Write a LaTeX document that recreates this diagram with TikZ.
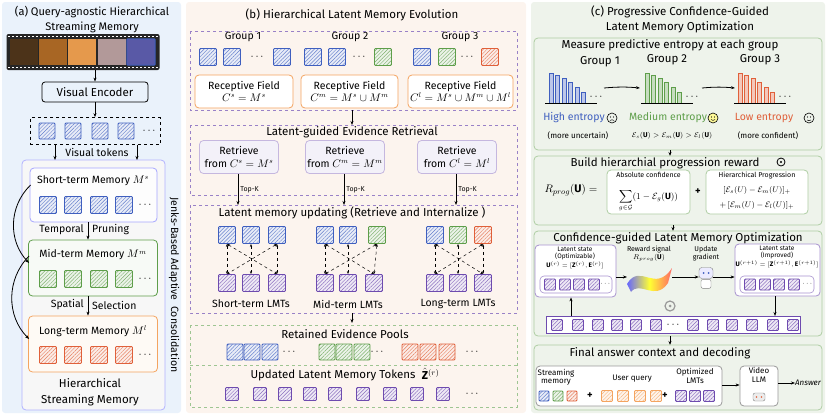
\documentclass[tikz,border=0pt]{standalone}
\usepackage{fontspec}
\setmainfont{Fira Sans}
\usepackage{amsmath,amssymb}
\usetikzlibrary{patterns.meta,arrows.meta,calc}
\definecolor{tb}{HTML}{3F5FBF}
\definecolor{tg}{HTML}{5E9E4A}
\definecolor{tr}{HTML}{E0603A}
\definecolor{tp}{HTML}{6E4BAF}
\definecolor{to}{HTML}{F4A460}
\definecolor{bgA}{HTML}{EAF2FB}
\definecolor{bgB}{HTML}{FCF4EE}
\definecolor{bgC}{HTML}{EEF3EB}
\tikzset{
  tok/.style={draw=#1, line width=0.9pt, rounded corners=1pt, minimum size=16pt, inner sep=0pt,
    preaction={fill=#1!12}, pattern={Lines[angle=45,distance=2.6pt,line width=0.45pt]}, pattern color=#1!80},
  sbox/.style={draw=#1, line width=0.8pt, rounded corners=4pt},
  dbox/.style={draw=#1, dashed, line width=0.7pt},
  lbl/.style={font=\fontsize{10.5}{11.5}\selectfont, inner sep=0pt},
  tiny/.style={font=\fontsize{7}{8}\selectfont, inner sep=0pt, align=center},
  ttl/.style={font=\fontsize{11.5}{12.5}\selectfont, inner sep=0pt},
  arr/.style={-{Stealth[length=4pt]}, line width=0.8pt},
  darr/.style={{Stealth[length=3pt]}-{Stealth[length=3pt]}, dashed, line width=0.5pt},
  face/.style={draw, circle, minimum size=10pt, inner sep=0pt, line width=0.6pt}
}
\begin{document}
\begin{tikzpicture}[x=1pt,y=-1pt]
\useasboundingbox (0,0) rectangle (829,415);
% ---------------- panel (a)
\fill[bgA, rounded corners=3pt] (2,2) rectangle (181,413);
\node[ttl, font=\fontsize{11}{12}\selectfont] (ta1) at (92,12) {(a) Query-agnostic Hierarchical};
\node[ttl, font=\fontsize{11}{12}\selectfont] (ta2) at (92,27) {Streaming Memory};
\node[fill=black!85, minimum width=153pt, minimum height=36pt, rounded corners=2pt] (film) at (83,52) {};
\foreach \x/\c [count=\i] in {24/brown!40!black, 53/orange!30!brown!80!black, 82/orange!50!brown!80, 112/pink!40!gray, 141/blue!30!gray}
  \node[fill=\c, minimum width=28pt, minimum height=26pt, inner sep=0pt] (fr\i) at (\x,52) {};
\draw[tb, line width=1pt, rounded corners=1pt] (fr5.south west) rectangle (fr5.north east);
\draw[white, line width=1.5pt, dash pattern=on 2pt off 2pt] (8,36.5) -- (158,36.5) (8,67.5) -- (158,67.5);
\node[draw, rounded corners=3pt, line width=0.8pt, minimum width=106pt, minimum height=20pt, font=\fontsize{11.5}{12}\selectfont] (enc) at (95,92) {Visual Encoder};
\draw[arr] (film.south -| enc.north) -- (enc.north);
\node[dbox=black, minimum width=130pt, minimum height=27pt] (vtok) at (95,131) {};
\foreach \x [count=\i] in {47,73,100,126} \node[tok=tb] (v\i) at (\x,131) {};
\node[lbl] (vdots) at (150,131) {$\cdots$};
\draw[arr] (enc.south) -- (vtok.north);
\node[lbl] (vtl) at (97,152) {Visual tokens};
\node[sbox=blue!30, fill=gray!6, minimum width=143pt, minimum height=250pt] (hier) at (93.5,285) {};
\coordinate (h1) at (55,160);
\coordinate (h2) at (137,160);
\draw[arr] (vtok.south -| h1) -- (h1);
\draw[arr] (vtok.south -| h2) -- (h2);
% short / mid / long memories
\node[sbox=blue!35, fill=white!60!gray!4, minimum width=127pt, minimum height=54pt] (stm) at (93.5,195) {};
\node[lbl] (stl) at (93,181) {Short-term Memory $M^s$};
\foreach \x [count=\i] in {48,73,99,124} \node[tok=tb, minimum size=17pt] (s\i) at (\x,205) {};
\node[lbl] (sdots) at (146,205) {$\cdots$};
\node[sbox=tg, fill=tg!5, minimum width=129pt, minimum height=56pt] (mtm) at (93,268) {};
\node[lbl] (mtl) at (93,255) {Mid-term Memory $M^m$};
\foreach \x [count=\i] in {48,73,99,124} \node[tok=tg, minimum size=17pt] (m\i) at (\x,279) {};
\node[lbl] (mdots) at (146,279) {$\cdots$};
\node[sbox=to, fill=to!6, minimum width=129pt, minimum height=56pt] (ltm) at (93,344) {};
\node[lbl] (ltl) at (93,331) {Long-term Memory $M^l$};
\foreach \x [count=\i] in {48,73,99,124} \node[tok=tr, minimum size=17pt] (l\i) at (\x,355) {};
\node[lbl] (ldots) at (146,355) {$\cdots$};
\draw[arr] (stm.south -| 88,0) -- (mtm.north -| 88,0);
\node[lbl, anchor=east] (tp1) at (84,230) {Temporal};
\node[lbl, anchor=west] (tp2) at (92,230) {Pruning};
\draw[arr] (mtm.south -| 88,0) -- (ltm.north -| 88,0);
\node[lbl, anchor=east] (sp1) at (84,305) {Spatial};
\node[lbl, anchor=west] (sp2) at (92,305) {Selection};
\node[ttl] (hl1) at (90,383) {Hierarchical};
\node[ttl] (hl2) at (90,400) {Streaming Memory};
\node[lbl, rotate=-90] (jenks) at (174,285) {Jenks-Based Adaptive \ Consolidation};
\draw[arr] ($(stm.west)+(1,-10)$) to[bend right=45] ($(mtm.west)+(1,-5)$);
\draw[arr] ($(mtm.west)+(1,-12)$) to[bend right=45] ($(ltm.west)+(1,-5)$);
% ---------------- panel (b)
\fill[bgB, rounded corners=3pt] (186,2) rectangle (526,413);
\node[ttl] (tb1) at (352,15) {(b) Hierarchical Latent Memory Evolution};
\draw[dbox=tp!70] (190,31) rectangle (517,110);
\foreach \x/\t [count=\i] in {243/1,350/2,460/3} \node[lbl] (g\i) at (\x,37) {Group \t};
\foreach \x/\c [count=\i] in {208/tb,232/tb,282/tb,313/tb,337/tb,383/tg,422/tb,447/tg,490/tr}
  \node[tok=\c, minimum size=17pt] (gt\i) at (\x,57) {};
\foreach \x [count=\i] in {258,360,468} \node[lbl] (gd\i) at (\x,57) {$\cdots$};
\node[sbox=to, fill=white, minimum width=98pt, minimum height=33pt, lbl, align=center] (rf1) at (244,91.5) {Receptive Field\\[1pt] $C^s=M^s$};
\node[sbox=to, fill=white, minimum width=97pt, minimum height=33pt, lbl, align=center] (rf2) at (349.5,91.5) {Receptive Field\\[1pt] $C^m=M^s\cup M^m$};
\node[sbox=to, fill=white, minimum width=105pt, minimum height=33pt, lbl, align=center] (rf3) at (460.5,91.5) {Receptive Field\\[1pt] $C^l=M^s\cup M^m\cup M^l$};
\coordinate (bA) at (352,110);
\coordinate (bB) at (352,125);
\draw[arr] (bA) -- (bB);
\draw[dbox=tp!70] (190,125) rectangle (517,195);
\node[ttl] (rt) at (352,132) {Latent-guided Evidence Retrieval};
\foreach \x/\f [count=\i] in {239/{C^s=M^s},345/{C^m=M^m},457/{C^l=M^l}}
  \node[sbox=tp!40, fill=tp!8, minimum width=79pt, minimum height=33pt, lbl, align=center] (rv\i) at (\x,157) {Retrieve\\[1pt] from $\f$};
\foreach \i/\x in {1/238,2/344,3/456} {
  \coordinate (tk\i) at (\x,205);
  \draw[arr] (rv\i.south -| tk\i) -- node[tiny, right=2pt] {Top-K} (tk\i);
}
\draw[dbox=tp!70] (190,205) rectangle (517,313);
\node[ttl] (ut) at (352,213) {Latent memory updating (Retrieve and Internalize )};
\foreach \a/\b/\c/\n [count=\k] in {227/251/277/Short-term, 325/348/374/Mid-term, 435/458/483/Long-term} {
  \node[lbl] (lmt\k) at (\b,304) {\n\ LMTs};
  \foreach \x [count=\i] in {\a,\b,\c} \node[tok=tp, minimum size=17pt] (bt\k\i) at (\x,283) {};
}
\foreach \x/\c [count=\i] in {227/tb,251/tb,277/tb} \node[tok=\c, minimum size=17pt] (tt1\i) at (\x,235) {};
\foreach \x/\c [count=\i] in {325/tb,348/tb,377/tg} \node[tok=\c, minimum size=17pt] (tt2\i) at (\x,235) {};
\foreach \x/\c [count=\i] in {435/tb,458/tg,483/tr} \node[tok=\c, minimum size=17pt] (tt3\i) at (\x,235) {};
\foreach \k in {1,2,3} {
  \foreach \i in {1,2,3} \draw[darr] (tt\k\i.south) -- (bt\k\i.north);
  \draw[darr] (tt\k1.south) -- (bt\k3.north);
  \draw[darr] (tt\k3.south) -- (bt\k1.north);
}
\coordinate (bC) at (352,313);
\coordinate (bD) at (352,323);
\draw[arr] (bC) -- (bD);
\draw[dbox=tg!60] (190,325) rectangle (517,407);
\draw[dbox=tg!60] (190,365) -- (517,365);
\node[ttl] (rp) at (345,334) {Retained Evidence Pools};
\foreach \x/\c [count=\i] in {235/tb,252/tb,270/tb,327/tg,344/tg,362/tg,410/tr,428/tr,447/tr}
  \node[tok=\c] (rp\i) at (\x,352) {};
\foreach \x [count=\i] in {290,378,473} \node[lbl] (rpd\i) at (\x,352) {$\cdots$};
\node[ttl] (up) at (333,375) {Updated Latent Memory Tokens};
\node[ttl, anchor=west] (upz) at ($(up.east)+(6,-1)$) {$\hat{\mathbf{Z}}^{(r)}$};
\foreach \x [count=\i] in {232,260,285,310,335,363,390,417,443} \node[tok=tp, minimum size=13pt] (ul\i) at (\x,394) {};
\node[lbl] (uld) at (473,394) {$\cdots$};
% ---------------- panel (c)
\fill[bgC, rounded corners=3pt] (531,2) rectangle (825,413);
\node[ttl] (tc1) at (680,12) {(c) Progressive Confidence-Guided};
\node[ttl] (tc2) at (680,27) {Latent Memory Optimization};
\draw[sbox=tg!50] (534,38) rectangle (822,150);
\node[ttl] (me) at (670,45) {Measure predictive entropy at each group};
\foreach \x/\y/\t [count=\i] in {600/62/1,667/60/2,760/60/3} \node[ttl] (cg\i) at (\x,\y) {Group \t};
\foreach \xa/\c [count=\k] in {551/tb,647/tg,740/tr} {
  \foreach \h [count=\i] in {30,28,25,21,16,11}
    \draw[\c, fill=\c!35, line width=0.6pt] ({\xa+(\i-1)*6.5-2},103) rectangle ({\xa+(\i-1)*6.5+2},{103-\h});
  \draw[line width=0.8pt] (\xa-6,103) coordinate (bl\k) -- (\xa+46,103) coordinate (br\k);
  \node[lbl] (bd\k) at (\xa+46,97) {$\cdots$};
}
\draw[arr] (604,88) to[bend left=5] (640,88);
\draw[arr] (702,88) to[bend left=5] (735,88);
\node[lbl, text=tb] (he) at (574,118) {High entropy};
\node[face] (f1) at (612,118) {};
\node[lbl, text=tg] (mde) at (668,118) {Medium entropy};
\node[face, fill=yellow!40] (f2) at (713,118) {};
\node[lbl, text=tr] (loe) at (764,118) {Low entropy};
\node[face] (f3) at (809,118) {};
\foreach \i in {1,2,3} {
  \fill ($(f\i.center)+(-1.5,-1)$) circle (0.6pt) ($(f\i.center)+(1.5,-1)$) circle (0.6pt);
}
\draw[line width=0.5pt] ($(f1.center)+(-2,2.5)$) to[bend left=40] ($(f1.center)+(2,2.5)$);
\draw[line width=0.5pt] ($(f2.center)+(-2,1.5)$) to[bend right=50] ($(f2.center)+(2,1.5)$);
\draw[line width=0.5pt] ($(f3.center)+(-2,2)$) to[bend right=30] ($(f3.center)+(2,2)$);
\node[tiny, font=\fontsize{8}{9}\selectfont] (mu) at (578,136) {(more uncertain)};
\node[tiny] (ineq) at (672,136) {$\mathcal{E}_s(\mathbf{U})>\mathcal{E}_m(\mathbf{U})>\mathcal{E}_l(\mathbf{U})$};
\node[tiny, font=\fontsize{8}{9}\selectfont] (mc) at (768,136) {(more confident)};
\coordinate (cA) at (670,150);
\coordinate (cB) at (670,156);
\draw[arr] (cA) -- (cB);
\draw[sbox=tg!50] (534,156) rectangle (822,225);
\node[ttl] (br) at (665,163) {Build hierarchial progression reward};
\node[draw, circle, minimum size=8pt, inner sep=0pt, line width=0.8pt] (cam) at (781,162) {};
\fill (cam.center) circle (1.2pt);
\node[lbl, font=\fontsize{11}{12}\selectfont] (rpg) at (571,190) {$R_{prog}(\mathbf{U})=$};
\draw[sbox=tg!50, fill=white] (607,170) rectangle (690,214);
\node[tiny] (abs) at (648.5,175) {Absolute confidence};
\node[lbl, font=\fontsize{9}{10}\selectfont] (sum) at (648.5,201) {$\displaystyle\sum_{g\in\mathcal{G}}(1-\mathcal{E}_g(\mathbf{U}))$};
\node[lbl] (plus) at (698,192) {\textbf{+}};
\draw[sbox=tg!50, fill=white] (706,170) rectangle (808,214);
\node[tiny] (hp) at (757,176) {Hierarchical Progression};
\node[tiny, font=\fontsize{8}{9}\selectfont] (hp1) at (757,190) {$[\mathcal{E}_s(U)-\mathcal{E}_m(U)]_+$};
\node[tiny, font=\fontsize{8}{9}\selectfont] (hp2) at (757,205) {$+\,[\mathcal{E}_m(U)-\mathcal{E}_l(U)]_+$};
\coordinate (cC) at (673,225);
\coordinate (cD) at (673,231);
\draw[arr] (cC) -- (cD);
\draw[sbox=tg!50] (534,231) rectangle (822,336);
\node[ttl] (cg) at (678,238) {Confidence-guided Latent Memory Optimization};
\node[sbox=tp!60, fill=white, minimum width=81pt, minimum height=52pt] (ls1) at (575.5,271) {};
\node[tiny, font=\fontsize{6.5}{7.5}\selectfont] (ls1t) at (575,258) {Latent state\\(Optimizable)\\$\mathbf{U}^{(r)}=[\mathbf{Z}^{(r)},\mathbf{E}^{(r)}]$};
\draw[sbox=tp!60, line width=0.6pt] (540,276) rectangle (612,293);
\foreach \x [count=\i] in {550,565,579,594} \node[tok=tp, minimum size=11pt] (la\i) at (\x,284.5) {};
\node[tiny] (lad) at (606,284) {$\cdots$};
\node[sbox=tp!60, fill=white, minimum width=85pt, minimum height=52pt] (ls2) at (777.5,270) {};
\node[tiny, font=\fontsize{6.5}{7.5}\selectfont] (ls2t) at (777,257) {Latent state\\(Improved)\\$\mathbf{U}^{(r+1)}=[\mathbf{Z}^{(r+1)},\mathbf{E}^{(r+1)}]$};
\draw[sbox=tp!60, line width=0.6pt] (740,276) rectangle (814,293);
\foreach \x [count=\i] in {750,765,779,794} \node[tok=tp, minimum size=11pt] (lb\i) at (\x,284.5) {};
\node[tiny] (lbd) at (808,284) {$\cdots$};
\node[tiny] (rs) at (649,254) {Reward signal\\$R_{prog}(\mathbf{U})$};
\shade[left color=blue!60, right color=red!60, middle color=yellow!80] (627,284) .. controls (640,262) and (655,294) .. (672,268) -- (668,283) .. controls (655,302) and (640,280) .. (631,292) -- cycle;
\coordinate (sf1) at (627,277);
\coordinate (sf2) at (672,277);
\node[tiny] (ug) at (706,254) {Update\\gradient};
\node[draw=gray, fill=blue!8, rounded corners=3pt, minimum width=14pt, minimum height=11pt, inner sep=0pt] (rob) at (706,273) {};
\node[draw=gray, fill=white, rounded corners=2pt, minimum width=10pt, minimum height=9pt, inner sep=0pt, anchor=north] (robb) at ($(rob.south)+(0,0.5)$) {};
\fill[tb] ($(rob.center)+(-2.5,0)$) circle (1pt) ($(rob.center)+(2.5,0)$) circle (1pt);
\draw[arr] (ls1.east |- sf1) -- (sf1);
\draw[arr] (sf2) -- (rob.west |- sf2);
\draw[arr] (rob.east |- sf2) -- (ls2.west |- sf2);
\node[draw=tp, line width=1pt, fill=white, minimum width=254pt, minimum height=17pt, inner sep=0pt] (strip) at (673,325) {};
\foreach \x [count=\i] in {557,578,598,617,636,656,693,713,732,752,773,793} \node[tok=tp, minimum size=11pt] (st\i) at (\x,325) {};
\node[lbl] (std) at (674,325) {$\cdots$};
\draw[arr] (ls2.south -| 775,0) -- (strip.north -| 775,0);
\draw[arr] (strip.north -| 571,0) -- (ls1.south -| 571,0);
\node[draw=gray!80, circle, minimum size=10pt, inner sep=0pt, line width=1.2pt] (cyc) at (670,306) {};
\fill[gray!80] (cyc.center) circle (1.5pt);
\coordinate (cE) at (670,336);
\coordinate (cF) at (670,345);
\draw[arr] (cE) -- (cF);
\draw[sbox=tg!50] (534,345) rectangle (822,410);
\node[ttl] (fa) at (660,353) {Final answer context and decoding};
\draw[sbox=gray!80, fill=white] (536,366) rectangle (722,406);
\node[tiny, font=\fontsize{8}{8.5}\selectfont] (smm) at (556,377) {Streaming\\memory};
\foreach \x/\c [count=\i] in {544/tb,558/tg,572/tr} \node[tok=\c, minimum size=10pt] (fs\i) at (\x,396) {};
\node[lbl] (p1) at (590,396) {\textbf{+}};
\node[tiny, font=\fontsize{8}{9}\selectfont] (uq) at (632,379) {User query};
\foreach \x [count=\i] in {607,623,640,656} \node[tok=to, minimum size=11pt] (fq\i) at (\x,396) {};
\node[lbl] (p2) at (665,396) {\textbf{+}};
\node[tiny, font=\fontsize{8}{8.5}\selectfont] (ol) at (695,376) {Optimized\\LMTs};
\foreach \x [count=\i] in {681,695,709} \node[tok=tp, minimum size=11pt] (fl\i) at (\x,396) {};
\node[sbox=gray!80, fill=white, minimum width=38pt, minimum height=40pt] (vllm) at (759,386) {};
\node[tiny, font=\fontsize{8}{8.5}\selectfont] (vlt) at (759,375) {Video\\LLM};
\node[draw=gray, fill=gray!15, rounded corners=2pt, minimum width=12pt, minimum height=8pt, inner sep=0pt] (rob2) at (759,397) {};
\fill[tr] ($(rob2.center)+(-2.5,0)$) circle (0.9pt) ($(rob2.center)+(2.5,0)$) circle (0.9pt);
\node[tiny, font=\itshape\fontsize{8}{9}\selectfont, anchor=west] (ans) at (795,383) {Answer};
\draw[arr] (722,385) -- (vllm.west |- 0,385);
\draw[arr] (vllm.east |- ans) -- (ans.west);
\end{tikzpicture}
\end{document}
